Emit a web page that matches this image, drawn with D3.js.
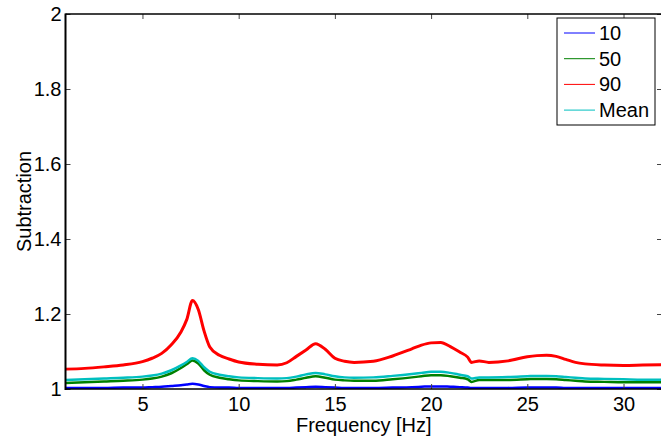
<!DOCTYPE html>
<html>
<head>
<meta charset="utf-8">
<script src="https://cdn.jsdelivr.net/npm/d3@7"></script>
<style>
  body { margin: 0; background: #fff; }
  svg { display: block; font-family: "Liberation Sans", Arial, sans-serif; }
  .tick text { font-size: 20px; fill: #000; }
  .tick line { stroke: #444; }
</style>
</head>
<body>
<svg width="661" height="438"></svg>
<script>
// frequencies (Hz)
let freq = [1, 2, 3, 4, 5, 5.5, 6, 6.5, 7, 7.3, 7.6, 7.9, 8.2, 8.5, 9, 9.5, 10,
  11, 12, 12.5, 13, 13.5, 14, 14.5, 15, 15.5, 16, 17, 18, 19, 19.5, 20, 20.5,
  21, 21.5, 21.9, 22.1, 22.5, 23, 24, 25, 25.5, 26, 26.5, 27, 27.5, 28, 29, 30, 31, 32];

let p10 = [1.003, 1.003, 1.003, 1.004, 1.004, 1.005, 1.006, 1.008, 1.010, 1.012, 1.014,
  1.012, 1.008, 1.005, 1.004, 1.004, 1.003, 1.003, 1.003, 1.003, 1.004, 1.005, 1.006,
  1.005, 1.004, 1.003, 1.003, 1.003, 1.004, 1.005, 1.006, 1.007, 1.007, 1.006, 1.005,
  1.004, 1.003, 1.003, 1.003, 1.003, 1.004, 1.004, 1.004, 1.004, 1.003, 1.003, 1.003,
  1.003, 1.003, 1.003, 1.003];

let p50 = [1.016, 1.018, 1.020, 1.022, 1.025, 1.028, 1.033, 1.042, 1.056, 1.066, 1.076,
  1.068, 1.050, 1.038, 1.030, 1.026, 1.023, 1.021, 1.020, 1.021, 1.025, 1.030, 1.034,
  1.030, 1.025, 1.023, 1.022, 1.022, 1.026, 1.031, 1.034, 1.037, 1.037, 1.034, 1.030,
  1.026, 1.019, 1.024, 1.024, 1.024, 1.026, 1.027, 1.027, 1.026, 1.024, 1.022, 1.020,
  1.019, 1.018, 1.018, 1.018];

let p90 = [1.053, 1.055, 1.059, 1.064, 1.073, 1.082, 1.095, 1.118, 1.152, 1.185, 1.236,
  1.212, 1.155, 1.112, 1.090, 1.080, 1.072, 1.066, 1.064, 1.070, 1.087, 1.104, 1.121,
  1.106, 1.082, 1.074, 1.071, 1.074, 1.088, 1.107, 1.117, 1.123, 1.124, 1.113, 1.098,
  1.085, 1.071, 1.075, 1.071, 1.075, 1.086, 1.089, 1.090, 1.087, 1.079, 1.071, 1.067,
  1.064, 1.063, 1.064, 1.065];

let mean = [1.024, 1.026, 1.028, 1.030, 1.033, 1.036, 1.041, 1.050, 1.063, 1.072, 1.082,
  1.075, 1.058, 1.046, 1.038, 1.034, 1.031, 1.029, 1.028, 1.029, 1.033, 1.039, 1.043,
  1.039, 1.034, 1.031, 1.030, 1.031, 1.035, 1.040, 1.043, 1.046, 1.046, 1.043, 1.038,
  1.034, 1.028, 1.031, 1.031, 1.032, 1.034, 1.035, 1.035, 1.034, 1.032, 1.030, 1.028,
  1.027, 1.026, 1.025, 1.025];

let seriesNames = ["10", "50", "90", "Mean"];
let seriesValues = [p10, p50, p90, mean];
let seriesColors = ["#0000ff", "#008000", "#ff0000", "#00bfbf"];
let seriesWidths = [2.5, 2.5, 3, 2.5];

let xTicks = [5, 10, 15, 20, 25, 30];
let yTicks = [1, 1.2, 1.4, 1.6, 1.8, 2];
let yTickLabels = ["1", "1.2", "1.4", "1.6", "1.8", "2"];

let pLeft = 65.5, pRight = 662, pTop = 14, pBottom = 389;

let x = d3.scaleLinear().domain([1, 32]).range([pLeft, pRight]);
let y = d3.scaleLinear().domain([1, 2]).range([pBottom, pTop]);

let svg = d3.select("svg");

svg.append("clipPath").attr("id", "clip")
  .append("rect")
  .attr("x", pLeft).attr("y", pTop)
  .attr("width", pRight - pLeft).attr("height", pBottom - pTop);

// lines
let line = d3.line()
  .x(function (d, i) { return x(freq[i]); })
  .y(function (d) { return y(d); })
  .curve(d3.curveMonotoneX);

svg.append("g")
  .attr("clip-path", "url(#clip)")
  .selectAll("path")
  .data(seriesValues)
  .enter()
  .append("path")
  .attr("d", line)
  .attr("fill", "none")
  .attr("stroke", function (d, i) { return seriesColors[i]; })
  .attr("stroke-width", function (d, i) { return seriesWidths[i]; })
  .attr("stroke-linejoin", "round");

// axes (ticks point inward, matlab style)
svg.append("g")
  .attr("transform", "translate(0," + pBottom + ")")
  .call(d3.axisBottom(x).tickValues(xTicks).tickSizeInner(-5).tickSizeOuter(0).tickPadding(8))
  .call(function (g) { g.select(".domain").remove(); });

svg.append("g")
  .attr("transform", "translate(0," + pTop + ")")
  .call(d3.axisTop(x).tickValues(xTicks).tickSizeInner(-5).tickSizeOuter(0).tickFormat(""))
  .call(function (g) { g.select(".domain").remove(); });

svg.append("g")
  .attr("transform", "translate(" + pLeft + ",0)")
  .call(d3.axisLeft(y).tickValues(yTicks).tickSizeInner(-5).tickSizeOuter(0).tickPadding(4)
    .tickFormat(function (d, i) { return yTickLabels[i]; }))
  .call(function (g) { g.select(".domain").remove(); });

svg.append("g")
  .attr("transform", "translate(" + pRight + ",0)")
  .call(d3.axisRight(y).tickValues(yTicks).tickSizeInner(-5).tickSizeOuter(0).tickFormat(""))
  .call(function (g) { g.select(".domain").remove(); });

// box
svg.append("line")
  .attr("x1", pLeft).attr("x2", pRight).attr("y1", pTop).attr("y2", pTop)
  .attr("stroke", "#000").attr("stroke-width", 1.3);
svg.append("line")
  .attr("x1", pLeft).attr("x2", pLeft).attr("y1", pTop - 0.6).attr("y2", pBottom + 1)
  .attr("stroke", "#000").attr("stroke-width", 2);
svg.append("line")
  .attr("x1", pLeft).attr("x2", pRight).attr("y1", pBottom).attr("y2", pBottom)
  .attr("stroke", "#000").attr("stroke-width", 1.5);

// axis labels
svg.append("text")
  .attr("x", (pLeft + pRight) / 2).attr("y", 432)
  .attr("text-anchor", "middle")
  .style("font-size", "20px")
  .text("Frequency [Hz]");

svg.append("text")
  .attr("transform", "translate(31," + (pBottom + pTop) / 2 + ") rotate(-90)")
  .attr("text-anchor", "middle")
  .style("font-size", "20px")
  .text("Subtraction");

// legend
let legend = svg.append("g").attr("transform", "translate(557,18)");
legend.append("rect")
  .attr("width", 98).attr("height", 107)
  .attr("fill", "#fff").attr("stroke", "#000").attr("stroke-width", 1);

let items = legend.selectAll("g.item")
  .data(seriesNames)
  .enter()
  .append("g")
  .classed("item", true)
  .attr("transform", function (d, i) { return "translate(0," + (15 + i * 25.7) + ")"; });

items.append("line")
  .attr("x1", 7).attr("x2", 38)
  .attr("stroke", function (d, i) { return seriesColors[i]; })
  .attr("stroke-width", 1);

items.append("text")
  .attr("x", 42).attr("y", 7)
  .style("font-size", "20px")
  .text(function (d) { return d; });
</script>
</body>
</html>
